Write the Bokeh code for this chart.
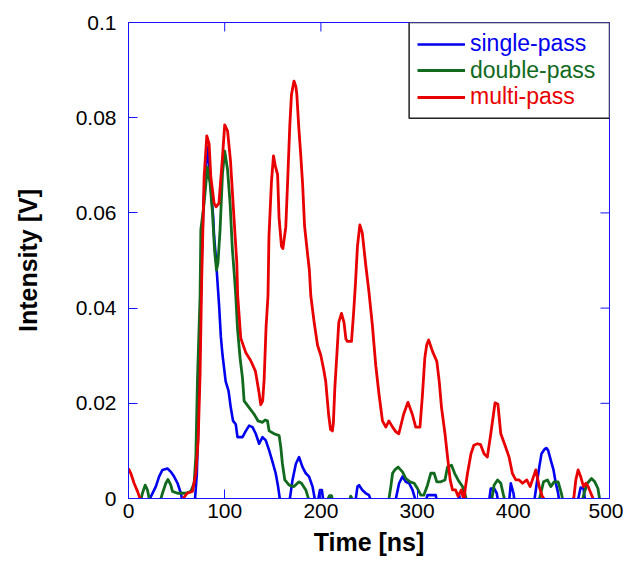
import math
from bokeh.plotting import figure
from bokeh.models import Legend, LegendItem, FixedTicker, Range1d, BoxAnnotation
from bokeh.embed import file_html
from bokeh.resources import INLINE

# ---- data ----
red_t = [0, 2.4, 5.8, 9.4, 12.8, 16, 30, 45, 55, 61, 66.5, 70, 72.4, 74.4, 76, 78.6, 81.4, 83.8,
         85.6, 89, 91, 94, 97.7, 100, 103, 106, 110, 112.6, 113.5, 116.7, 122, 127, 132, 135.5,
         137.5, 139.5, 141, 143, 145, 146, 148.6, 150.7, 152.5, 155, 156.5, 159, 160.5, 163.5,
         165.6, 167.7, 169.4, 172, 174, 175, 177, 179, 181, 183, 186, 188, 189.5, 193, 196.5,
         200, 203, 205, 208, 210, 212, 213, 214.5, 217, 218.6, 221.4, 224, 226, 227.6, 231.8,
         234, 236, 238, 240.5, 243, 246.7, 250, 253.5, 257, 260.4, 264, 267.5, 270.7, 274.5,
         278, 281, 286, 290.5, 295, 298.6, 303, 305.6, 308, 310, 312, 316, 320.5, 323, 325.4,
         329, 331.6, 334.4, 336.8, 340, 342.6, 346, 348.7, 350, 352.4, 356, 359, 362.8, 366,
         369.6, 373, 376.6, 379.4, 381, 384, 387, 392, 395.6, 399, 402.6, 406, 409.6, 414,
         417.5, 421, 423.4, 427, 430, 435, 460, 463, 465, 467.4, 470, 473, 475.4, 477.8, 480.6,
         484, 490]
red_v = [0.0063, 0.0053, 0.0032, 0.0015, -0.0005, -0.001, -0.001, -0.0005, -0.0005, 0.0011,
         0.0015, 0.0053, 0.0122, 0.026, 0.045, 0.0675, 0.0762, 0.0745, 0.0675, 0.062, 0.0613,
         0.062, 0.0717, 0.0785, 0.0772, 0.071, 0.0578, 0.0495, 0.0426, 0.0337, 0.0306, 0.029,
         0.0267, 0.0225, 0.0197, 0.0205, 0.025, 0.036, 0.0426, 0.055, 0.0665, 0.072, 0.070,
         0.068, 0.059, 0.053, 0.0525, 0.057, 0.0675, 0.0785, 0.0848, 0.0877, 0.0865, 0.0848,
         0.078, 0.0723, 0.066, 0.0573, 0.0516, 0.048, 0.0426, 0.037, 0.0322, 0.030, 0.027,
         0.0246, 0.0177, 0.0145, 0.0142, 0.016, 0.0233, 0.0316, 0.037, 0.0389, 0.037, 0.0335,
         0.033, 0.033, 0.039, 0.0454, 0.053, 0.0575, 0.0558, 0.0489, 0.0433, 0.0364, 0.028,
         0.0219, 0.0163, 0.015, 0.0163, 0.015, 0.014, 0.0136, 0.0177, 0.0202, 0.0177, 0.015,
         0.015, 0.0219, 0.0295, 0.0323, 0.0333, 0.0309, 0.0288, 0.0246, 0.0191, 0.0136, 0.0088,
         0.0039, 0.0018, 0.0018, 0.0005, 0.0018, -0.0005, 0.002, 0.0053, 0.0094, 0.0112, 0.0115,
         0.0113, 0.0094, 0.0087, 0.0136, 0.0177, 0.0201, 0.0198, 0.0136, 0.0108, 0.0087, 0.0053,
         0.0039, 0.0039, 0.0032, 0.0039, 0.0025, 0.0046, 0.006, 0.0025, 0.0005, -0.001, -0.001,
         0.0003, 0.0039, 0.006, 0.0046, 0.0025, 0.0032, 0.0025, 0.0011, -0.0005, -0.001]

green_t = [0, 12, 14.5, 17.3, 19.7, 22, 33, 35.3, 38.8, 41, 44, 45.7, 51, 59.6, 64.8, 68.2, 70,
           71.7, 74.4, 75.2, 78.6, 82, 84.8, 87.3, 89.5, 91.5, 93, 95.2, 97.7, 100, 103, 105.6,
           108, 110, 111.5, 113.3, 116, 118.5, 120.2, 125.4, 130.6, 134.7, 139.3, 142, 144.5,
           146.2, 151.4, 156.6, 158.3, 160, 162.5, 167, 172, 177.3, 179.8, 184.3, 187.8, 205,
           209, 211, 213, 229, 231, 235, 270, 272.7, 274.5, 276.8, 280.3, 284.8, 288.3, 292.7,
           297, 300.4, 303.8, 307, 310.8, 314.2, 317.7, 320.5, 324.6, 329, 331.6, 335.8, 339,
           342.6, 347.2, 349.6, 352, 377, 380, 383.6, 387, 389.8, 392, 426, 428.6, 431.4, 435.5,
           439, 442.4, 446.6, 450, 452, 471, 473.6, 477, 481.3, 484.7, 488, 490]
green_v = [-0.001, -0.001, 0.0011, 0.0028, 0.0018, -0.0005, -0.0005, 0.0011, 0.0032, 0.004,
           0.0028, 0.0015, 0.0011, 0.0011, 0.0015, 0.0032, 0.0088, 0.025, 0.0426, 0.0565, 0.062,
           0.0696, 0.0662, 0.06, 0.052, 0.048, 0.0495, 0.0565, 0.0682, 0.073, 0.069, 0.062,
           0.0523, 0.047, 0.0426, 0.0357, 0.0295, 0.0253, 0.0205, 0.0191, 0.0177, 0.0163, 0.016,
           0.0165, 0.0163, 0.0142, 0.0136, 0.0132, 0.0108, 0.0073, 0.0039, 0.0028, 0.0025,
           0.0035, 0.0032, 0.0018, -0.0005, -0.001, 0.0006, 0.0006, -0.001, -0.001, 0.0005,
           -0.001, -0.001, 0.0025, 0.0053, 0.006, 0.0066, 0.0056, 0.0042, 0.0035, 0.0032, 0.0021,
           0.0007, 0.0007, 0.0028, 0.0053, 0.0053, 0.0035, 0.0035, 0.0039, 0.0066, 0.007, 0.0053,
           0.0039, 0.0025, 0.0011, -0.001, -0.001, 0.0028, 0.0039, 0.0032, 0.0007, -0.001,
           -0.001, 0.0011, 0.0035, 0.0039, 0.0025, 0.0035, 0.0035, 0.0011, -0.001, -0.001,
           0.0011, 0.0032, 0.0042, 0.0035, 0.0021, -0.0005]

blue_t = [0, 21, 23, 28.4, 31.8, 35.3, 40.5, 44, 47.4, 51, 54.4, 56, 69, 71, 72.5, 74.4, 76, 78,
          80, 82, 84.8, 86.3, 88, 89, 90.7, 92.5, 94.2, 96, 97.7, 101, 104, 106.3, 108.7, 111.5,
          113.3, 118.5, 122, 125.4, 128.9, 132.3, 135.8, 139.3, 142.7, 146.2, 149.7, 153, 155.5,
          157.6, 167, 168, 170.5, 174, 177.3, 180.9, 184.3, 187.7, 191.3, 194, 197, 199, 201,
          202.5, 236, 238, 239.7, 243, 246.7, 250, 253, 277, 278.5, 281.3, 284.8, 288.3, 291.7,
          295.2, 298.6, 309, 310.8, 319.4, 321, 342, 343.7, 345.5, 374.5, 376.6, 380, 382.8,
          384.5, 395.5, 397.4, 400.2, 401.5, 421.5, 424.4, 427, 429.3, 432.7, 434.5, 436.2, 439,
          441.8, 444.2, 446.6, 448, 466.5, 470, 473, 475, 490]
blue_v = [-0.001, -0.001, 0.0003, 0.0025, 0.0046, 0.006, 0.0063, 0.0056, 0.0046, 0.0032, 0.0011,
          -0.0005, -0.0005, 0.005, 0.015, 0.0336, 0.05, 0.062, 0.069, 0.0738, 0.0675, 0.0634,
          0.0592, 0.055, 0.051, 0.0455, 0.0405, 0.034, 0.0302, 0.0246, 0.0226, 0.0191, 0.0163,
          0.0156, 0.0129, 0.0129, 0.0142, 0.0153, 0.015, 0.0136, 0.0115, 0.0129, 0.0122, 0.0101,
          0.0077, 0.0053, 0.0025, -0.0005, -0.0005, 0.0003, 0.0039, 0.0073, 0.0087, 0.0066,
          0.0053, 0.0046, 0.0025, -0.0005, -0.0005, 0.0018, 0.0018, -0.0005, -0.0005, 0.0025,
          0.0028, 0.0018, 0.0011, 0.0007, -0.001, -0.001, 0.0005, 0.0032, 0.0046, 0.0035, 0.0032,
          0.0018, -0.0005, -0.0005, 0.0007, 0.0007, -0.001, -0.001, 0.0007, -0.001, -0.001,
          0.0021, 0.0021, 0.0011, -0.001, -0.001, 0.0032, 0.0011, -0.001, -0.001, 0.0032, 0.0066,
          0.0094, 0.0104, 0.0106, 0.0101, 0.008, 0.006, 0.0032, 0.0011, -0.001, -0.001, 0.0023,
          0.0021, -0.001, -0.001]

x_ticks = [0, 100, 200, 300, 400, 500]
y_ticks = [0, 0.02, 0.04, 0.06, 0.08, 0.1]
y_tick_labels = ["0", "0.02", "0.04", "0.06", "0.08", "0.1"]
series_labels = ["single-pass", "double-pass", "multi-pass"]

X_MAX = 500
Y_MAX = 0.1
LEGEND_LEFT = 291.7     # data x of the legend box's left edge
LEGEND_BOTTOM = 0.0799  # data y of the legend box's bottom edge

BLUE = "#0000ee"
GREEN = "#116a1e"
RED = "#e80000"
AXIS = "#1515ff"
FONT = "Liberation Sans"

FW, FH = 481, 476
p = figure(frame_width=FW, frame_height=FH, x_range=Range1d(0, X_MAX), y_range=Range1d(0, Y_MAX),
           output_backend="svg", toolbar_location=None,
           min_border_left=128, min_border_right=14, min_border_top=22, min_border_bottom=60)
p.grid.visible = False
p.outline_line_color = AXIS
p.outline_line_width = 1
p.background_fill_color = "white"
p.border_fill_color = "white"

rb = p.line(blue_t, blue_v, line_color=BLUE, line_width=2.6, line_join="round")
rg = p.line(green_t, green_v, line_color=GREEN, line_width=2.8, line_join="round")
rr = p.line(red_t, red_v, line_color=RED, line_width=2.8, line_join="round")

# mirrored inward ticks on the top and right frame edges (clipped half by the frame)
p.scatter(x_ticks, [Y_MAX] * len(x_ticks), marker="dash", size=18, angle=math.pi / 2,
          line_color=AXIS, line_width=1)
p.scatter([X_MAX] * len(y_ticks), y_ticks, marker="dash", size=18,
          line_color=AXIS, line_width=1)


def style(ax, ticks):
    ax.ticker = FixedTicker(ticks=ticks)
    ax.axis_line_color = AXIS
    ax.axis_line_width = 1
    ax.major_tick_line_color = AXIS
    ax.major_tick_line_width = 1
    ax.major_tick_in = 9
    ax.major_tick_out = 0
    ax.minor_tick_line_color = None
    ax.major_label_text_font = FONT
    ax.major_label_text_font_size = "21px"
    ax.major_label_text_color = "black"
    ax.axis_label_text_font = FONT
    ax.axis_label_text_font_style = "bold"
    ax.axis_label_text_font_size = "25px"
    ax.axis_label_text_color = "black"


xa = p.xaxis[0]
ya = p.yaxis[0]
style(xa, x_ticks)
style(ya, y_ticks)
ya.major_label_overrides = {t: s for t, s in zip(y_ticks, y_tick_labels)}
xa.axis_label = "Time [ns]"
ya.axis_label = "Intensity [V]"
xa.major_label_standoff = 5
xa.axis_label_standoff = 7
ya.major_label_standoff = 12
ya.axis_label_standoff = 31

box = BoxAnnotation(left=LEGEND_LEFT, right=X_MAX, top=Y_MAX, bottom=LEGEND_BOTTOM,
                    fill_color="white", fill_alpha=1.0,
                    line_color="#222222", line_width=1.5, line_alpha=1.0)
p.add_layout(box)

ITEM_H = 28
row_centers = [21.5, 48, 74.6]   # px below the frame top
for r, col, lab, rc in zip([rb, rg, rr], [BLUE, GREEN, RED], series_labels, row_centers):
    lg = Legend(items=[LegendItem(label=lab, renderers=[r])],
                location=(289, FH - rc - ITEM_H / 2), padding=0, margin=0, spacing=0,
                glyph_width=48, glyph_height=ITEM_H, label_height=ITEM_H, label_standoff=5,
                label_text_font=FONT, label_text_font_size="23px", label_text_color=col,
                border_line_alpha=0, background_fill_alpha=0)
    p.add_layout(lg)

open("out.html", "w").write(file_html(p, INLINE))
